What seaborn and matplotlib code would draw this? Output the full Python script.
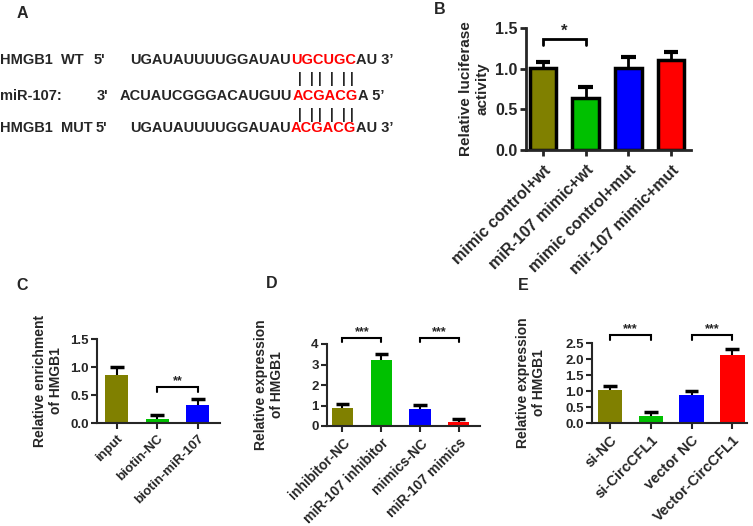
import numpy as np
import seaborn as sns
import matplotlib.pyplot as plt

# Datos
b_grupos = ['mimic control+wt', 'miR-107 mimic+wt', 'mimic control+mut', 'mir-107 mimic+mut']
b_medias = [1.01, 0.64, 1.01, 1.11]
b_err = [0.07, 0.14, 0.13, 0.09]

c_grupos = ['input', 'biotin-NC', 'biotin-miR-107']
c_medias = [0.85, 0.08, 0.33]
c_err = [0.15, 0.06, 0.09]

d_grupos = ['inhibitor-NC', 'miR-107 inhibitor', 'mimics-NC', 'miR-107 mimics']
d_medias = [0.87, 3.20, 0.83, 0.18]
d_err = [0.21, 0.30, 0.20, 0.15]

e_grupos = ['si-NC', 'si-CircCFL1', 'vector NC', 'Vector-CircCFL1']
e_medias = [1.03, 0.21, 0.88, 2.12]
e_err = [0.13, 0.13, 0.13, 0.20]

colores = ['#808000', '#00c000', '#0000ff', '#ff0000']

sns.set_style('ticks')
plt.rcParams['font.family'] = ['Liberation Sans', 'DejaVu Sans']
plt.rcParams['font.weight'] = 'bold'

W, H = 753, 526
fig = plt.figure(figsize=(W / 100, H / 100), dpi=100)


def caja(izq, arriba, der, abajo):
    return [izq / W, 1 - abajo / H, (der - izq) / W, (abajo - arriba) / H]


def diagrama_barras(pos, grupos, medias, err, ylim, yticks, ylabel, xlim, ancho,
                    lw, borde, fs_tick, fs_x, fs_lab, lab_x, cap, xpad):
    ax = fig.add_axes(caja(*pos))
    n = len(grupos)
    sns.barplot(x=grupos, y=medias, hue=grupos, palette=colores[:n], legend=False,
                ax=ax, width=ancho, saturation=1,
                edgecolor='black' if borde else 'none',
                linewidth=lw + 0.5 if borde else 0, zorder=2)
    x = np.arange(n)
    m = np.array(medias)
    e = np.array(err)
    ax.errorbar(x, m, yerr=[np.zeros(n), e], fmt='none', ecolor='black',
                elinewidth=lw, capsize=0, zorder=1)
    ax.hlines(m + e, x - cap, x + cap, color='black', lw=lw + 1, zorder=1)
    ax.set_ylim(*ylim)
    ax.set_xlim(*xlim)
    ax.set_yticks(yticks)
    ax.set_yticklabels([f'{v:.1f}' if ylim[1] != 4 else f'{v:.0f}' for v in yticks],
                       fontsize=fs_tick, fontweight='bold')
    ax.set_xticks(x)
    ax.set_xticklabels(grupos, rotation=45, ha='right', rotation_mode='anchor',
                       fontsize=fs_x, fontweight='bold')
    ax.tick_params(width=lw, length=4, pad=2)
    ax.tick_params(axis='x', pad=xpad)
    sns.despine(ax=ax)
    for s in ['left', 'bottom']:
        ax.spines[s].set_linewidth(lw)
    ax.set_ylabel(ylabel, fontsize=fs_lab, fontweight='bold')
    ax.yaxis.set_label_coords(lab_x, 0.5)
    ax.set_xlabel('')
    return ax


def corchete(ax, x1, x2, y, h, txt, lw, fs):
    ax.plot([x1, x1, x2, x2], [y - h, y, y, y - h], color='black', lw=lw,
            clip_on=False, solid_joinstyle='miter')
    ax.text((x1 + x2) / 2, y, txt, ha='center', va='bottom', fontsize=fs,
            fontweight='bold')


# Panel B
ax_b = diagrama_barras((526, 28, 691, 150), b_grupos, b_medias, b_err, (0, 1.5),
                       [0, 0.5, 1.0, 1.5], 'Relative luciferase\nactivity',
                       (-0.4, 3.47), 0.63, 2, True, 11.5, 11.5, 11, -0.224, 0.17, 5)
corchete(ax_b, 0, 1, 1.37, 0.08, '*', 2, 12)

# Panel C
ax_c = diagrama_barras((97, 339, 220, 423), c_grupos, c_medias, c_err, (0, 1.5),
                       [0, 0.5, 1.0, 1.5], 'Relative enrichment\nof HMGB1',
                       (-0.49, 2.55), 0.57, 1.5, False, 9.5, 9.5, 10, -0.276, 0.17, 3)
corchete(ax_c, 1, 2, 0.64, 0.08, '**', 1.5, 9)

# Panel D
ax_d = diagrama_barras((327, 344, 480, 426), d_grupos, d_medias, d_err, (0, 4),
                       [0, 1, 2, 3, 4], 'Relative expression\nof HMGB1',
                       (-0.4, 3.55), 0.55, 1.5, False, 9.5, 10, 10, -0.28, 0.17, 3)
corchete(ax_d, 0, 1, 4.3, 0.22, '***', 1.5, 9)
corchete(ax_d, 2, 3, 4.3, 0.22, '***', 1.5, 9)

# Panel E
ax_e = diagrama_barras((592, 343, 747, 423), e_grupos, e_medias, e_err, (0, 2.5),
                       [0, 0.5, 1.0, 1.5, 2.0, 2.5], 'Relative expression\nof HMGB1',
                       (-0.44, 3.36), 0.6, 1.5, False, 9.5, 10.5, 10, -0.297, 0.17, 3)
corchete(ax_e, 0, 1, 2.74, 0.14, '***', 1.5, 9)
corchete(ax_e, 2, 3, 2.74, 0.14, '***', 1.5, 9)

# Panel A: secuencias (coordenadas en píxeles)
ax_a = fig.add_axes([0, 0, 1, 1], zorder=-1)
ax_a.set_xlim(0, W)
ax_a.set_ylim(H, 0)
ax_a.axis('off')

fs_seq = 10.5
filas = [
    (60, 'HMGB1  WT', 94, "5'", 130, 'UGAUAUUUUGGAUAU', 'UGCUGC', 'AU 3’'),
    (96, 'miR-107:', 97, "3'", 120, 'ACUAUCGGGACAUGUU', 'ACGACG', 'A 5’'),
    (128, 'HMGB1  MUT', 96, "5'", 130, 'UGAUAUUUUGGAUAU', 'ACGACG', 'AU 3’'),
]
for y, nombre, x5, extremo, xs, negro, rojo, fin in filas:
    ax_a.text(0, y, nombre, va='center', fontsize=fs_seq, fontweight='bold')
    ax_a.text(x5, y, extremo, va='center', fontsize=fs_seq, fontweight='bold')
    t1 = ax_a.text(xs, y, negro, va='center', fontsize=fs_seq, fontweight='bold')
    t2 = ax_a.annotate(rojo, xy=(1, 0.5), xycoords=t1, va='center', color='#ff0000',
                       fontsize=fs_seq, fontweight='bold')
    ax_a.annotate(fin, xy=(1, 0.5), xycoords=t2, va='center', fontsize=fs_seq,
                  fontweight='bold')

for y in [79, 115]:
    for xp in [300, 312, 320, 332, 344, 352]:
        ax_a.text(xp, y, '|', ha='center', va='center', fontsize=10,
                  fontweight='bold')

# Letras de los paneles
for letra, xl, yl in [('A', 22, 13), ('B', 440, 10), ('C', 22, 286),
                      ('D', 272, 284), ('E', 523, 286)]:
    ax_a.text(xl, yl, letra, ha='center', va='center', fontsize=11.5,
              fontweight='bold')

fig.savefig('out.png', dpi=100)
